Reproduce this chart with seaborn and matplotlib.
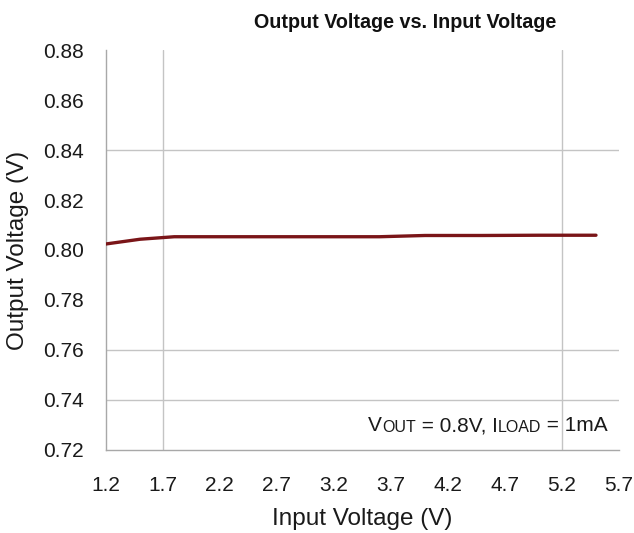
"""
Output Voltage vs. Input Voltage (VOUT = 0.8V, ILOAD = 1mA)
"""
import matplotlib
matplotlib.use("Agg")
import matplotlib.pyplot as plt
import seaborn as sns
import pandas as pd

# ---- data ----
vin = [1.2, 1.5, 1.8, 2.2, 2.7, 3.2, 3.6, 4.0, 4.5, 5.0, 5.5]
vout = [0.8024, 0.8043, 0.8053, 0.8053, 0.8053, 0.8053, 0.8053, 0.8058, 0.8058, 0.8059, 0.8059]
x_ticks = [1.2, 1.7, 2.2, 2.7, 3.2, 3.7, 4.2, 4.7, 5.2, 5.7]
y_ticks = [0.72, 0.74, 0.76, 0.78, 0.80, 0.82, 0.84, 0.86, 0.88]
grid_x = [1.7, 5.2]
grid_y = [0.74, 0.76, 0.84]

sns.set_theme(style="white")
plt.rcParams["font.family"] = ["Liberation Sans", "DejaVu Sans"]

df = pd.DataFrame({"vin": vin, "vout": vout})

fig = plt.figure(figsize=(6.34, 5.33), dpi=100)
ax = fig.add_axes([0.167, 0.156, 0.809, 0.75])

for gx in grid_x:
    ax.axvline(gx, color="#c4c4c4", lw=1.0, zorder=1)
for gy in grid_y:
    ax.axhline(gy, color="#c4c4c4", lw=1.0, zorder=1)

sns.lineplot(data=df, x="vin", y="vout", ax=ax, color="#7a1518", lw=2.4, zorder=3)

ax.set_xlim(1.2, 5.7)
ax.set_ylim(0.72, 0.88)
ax.set_xticks(x_ticks)
ax.set_xticklabels([f"{v:.1f}" for v in x_ticks])
ax.set_yticks(y_ticks)
ax.set_yticklabels([f"{v:.2f}" for v in y_ticks])
ax.tick_params(axis="both", direction="in", length=6, width=1, color="#a8a8a8",
               labelsize=15, labelcolor="#1a1a1a")
ax.tick_params(axis="y", pad=16)
ax.tick_params(axis="x", pad=19)

for side in ("top", "right"):
    ax.spines[side].set_visible(False)
for side in ("left", "bottom"):
    ax.spines[side].set_color("#a8a8a8")
    ax.spines[side].set_linewidth(1.0)

ax.set_xlabel("Input Voltage (V)", fontsize=17.5, color="#1a1a1a", labelpad=9)
ax.set_ylabel("Output Voltage (V)", fontsize=17.5, color="#1a1a1a", labelpad=10)

fig.text(405 / 634, 1 - 22 / 533, "Output Voltage vs. Input Voltage",
         ha="center", va="center", fontsize=14.2, fontweight="bold", color="#111111")

# condition note, small caps for the subscripts
parts = [("V", 15), ("OUT", 11.5), (" = 0.8V, I", 15), ("LOAD", 11.5), (" = 1mA", 15)]
prev = ax.text(0.511, 0.047, parts[0][0], transform=ax.transAxes, fontsize=parts[0][1],
               color="#1a1a1a", va="baseline", ha="left")
for txt, sz in parts[1:]:
    prev = ax.annotate(txt, xy=(1, 0), xycoords=prev, xytext=(0, 0),
                       textcoords="offset points", fontsize=sz, color="#1a1a1a",
                       va="bottom", ha="left")

fig.savefig("out.png", dpi=100)
